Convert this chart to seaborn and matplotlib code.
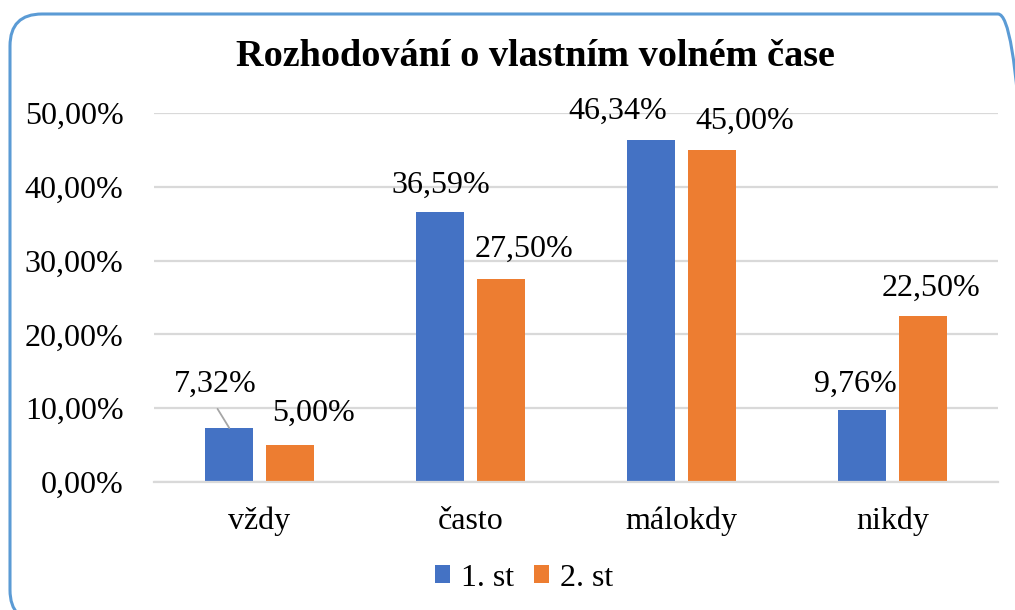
import pandas as pd
import numpy as np
import matplotlib
matplotlib.use("Agg")
import matplotlib.pyplot as plt
import seaborn as sns
from matplotlib.patches import FancyBboxPatch

# data
categories = ["vždy", "často", "málokdy", "nikdy"]
series = ["1. st", "2. st"]
st1 = [7.32, 36.59, 46.34, 9.76]
st2 = [5.00, 27.50, 45.00, 22.50]
yticks = [0, 10, 20, 30, 40, 50]

# label offsets in pixels (dx, dy) from the top centre of each bar
offsets_1 = [(-14, 44), (1, 27), (-34, 29), (-7, 26)]
offsets_2 = [(24, 32), (23, 30), (33, 29), (8, 28)]

df = pd.DataFrame({
    "kategorie": categories * 2,
    "skupina": [series[0]] * 4 + [series[1]] * 4,
    "hodnota": st1 + st2,
})

sns.set_theme(style="white")
plt.rcParams['font.family'] = ['Liberation Serif', 'DejaVu Serif']
plt.rcParams['text.color'] = 'black'
plt.rcParams['xtick.color'] = 'black'
plt.rcParams['ytick.color'] = 'black'

W, H = 1015, 610
fig = plt.figure(figsize=(W / 100, H / 100), dpi=100)
ax = fig.add_axes([154/W, 1 - 482/H, (998-154)/W, (482-113)/H])

palette = {"1. st": "#4472C4", "2. st": "#ED7D31"}
sns.barplot(data=df, x="kategorie", y="hodnota", hue="skupina", order=categories,
            hue_order=series, palette=palette, width=0.573, gap=0.21,
            saturation=1, ax=ax, legend=True, edgecolor="none")

ax.set_ylim(0, 50)
ax.set_yticks(yticks)
ax.set_yticklabels([f"{v:.2f}".replace(".", ",") + "%" for v in yticks])
ax.grid(axis="y", color="#D9D9D9", linewidth=1.6)
ax.set_axisbelow(True)
for s in ["top", "right", "left"]:
    ax.spines[s].set_visible(False)
ax.spines["bottom"].set_color("#D9D9D9")
ax.spines["bottom"].set_linewidth(1.6)
ax.tick_params(axis="y", length=0, pad=22, labelsize=23)
ax.tick_params(axis="x", length=0, pad=18, labelsize=23)
ax.set_xlabel("")
ax.set_ylabel("")

# data labels
for cont, offs in zip(ax.containers, [offsets_1, offsets_2]):
    for bar, (dx, dy) in zip(cont, offs):
        h = bar.get_height()
        xc = bar.get_x() + bar.get_width() / 2
        txt = f"{h:.2f}".replace(".", ",") + "%"
        arrow = None
        if dy > 40:
            arrow = dict(arrowstyle="-", color="#A6A6A6", lw=1.3, shrinkA=6, shrinkB=0,
                         relpos=(0.45, 0.0))
        ax.annotate(txt, xy=(xc, h), xytext=(dx, dy), textcoords="offset pixels",
                    ha="center", va="center", fontsize=23, color="black",
                    arrowprops=arrow)

leg = ax.legend(loc="center", bbox_to_anchor=((524-154)/(998-154), -(578-482)/(482-113)),
                ncol=2, frameon=False, fontsize=23, handlelength=0.48, handleheight=0.48,
                handletextpad=0.35, columnspacing=0.6)

fig.suptitle("Rozhodování o vlastním volném čase", x=535/W, y=1 - 57/H, va="center",
             fontsize=27.5, fontweight="bold", color="black")

# rounded chart border (figure fraction, corner radius given in pixels via aspect)
box = FancyBboxPatch((10/W, -12/H), 1020/W, (H - 14 + 12)/H,
                     boxstyle="round,pad=0,rounding_size=%f" % (32/W),
                     mutation_aspect=W/H, transform=fig.transFigure,
                     fill=False, edgecolor="#5B9BD5", linewidth=2.2, clip_on=False)
fig.patches.append(box)

fig.savefig("out.png", dpi=100)
